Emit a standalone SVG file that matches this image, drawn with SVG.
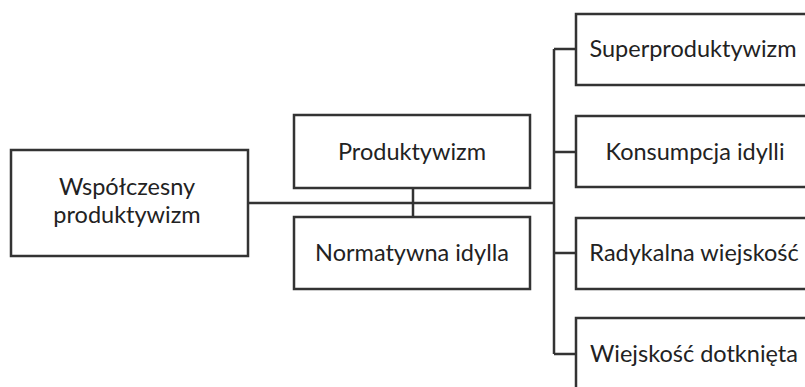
<svg xmlns="http://www.w3.org/2000/svg" width="805" height="387" viewBox="0 0 805 387">
<style>
.box{fill:#fff;stroke:#333;stroke-width:2.5}
.lbl{font-family:Lato,"Open Sans","Liberation Sans",sans-serif;font-size:23.5px;fill:#222;text-anchor:middle}
.con{fill:none;stroke:#333;stroke-width:2.5}
</style>
<rect width="805" height="387" fill="#fff"/>
<g id="connectors">
<path class="con" d="M248 203H554"/>
<path class="con" d="M413 188V217"/>
<path class="con" d="M554 49V354"/>
<path class="con" d="M554 49H576M554 152H576M554 253H576M554 354H576"/>
</g>
<g id="n-wspolczesny"><rect class="box" x="11" y="150" width="237" height="106"/>
<text class="lbl" x="127" y="195">Współczesny</text><text class="lbl" x="127" y="223">produktywizm</text></g>
<g id="n-produktywizm"><rect class="box" x="294" y="115" width="236" height="73"/>
<text class="lbl" x="412" y="160">Produktywizm</text></g>
<g id="n-normatywna"><rect class="box" x="294" y="217" width="236" height="72"/>
<text class="lbl" x="412" y="261">Normatywna idylla</text></g>
<g id="n-super"><rect class="box" x="576" y="14" width="240" height="71"/>
<text class="lbl" x="693" y="57">Superproduktywizm</text></g>
<g id="n-konsumpcja"><rect class="box" x="576" y="116" width="240" height="71"/>
<text class="lbl" x="695" y="160">Konsumpcja idylli</text></g>
<g id="n-radykalna"><rect class="box" x="576" y="218" width="240" height="71"/>
<text class="lbl" x="694" y="261">Radykalna wiejskość</text></g>
<g id="n-dotknieta"><rect class="box" x="576" y="318" width="240" height="74"/>
<text class="lbl" x="694" y="362">Wiejskość dotknięta</text></g>
</svg>
